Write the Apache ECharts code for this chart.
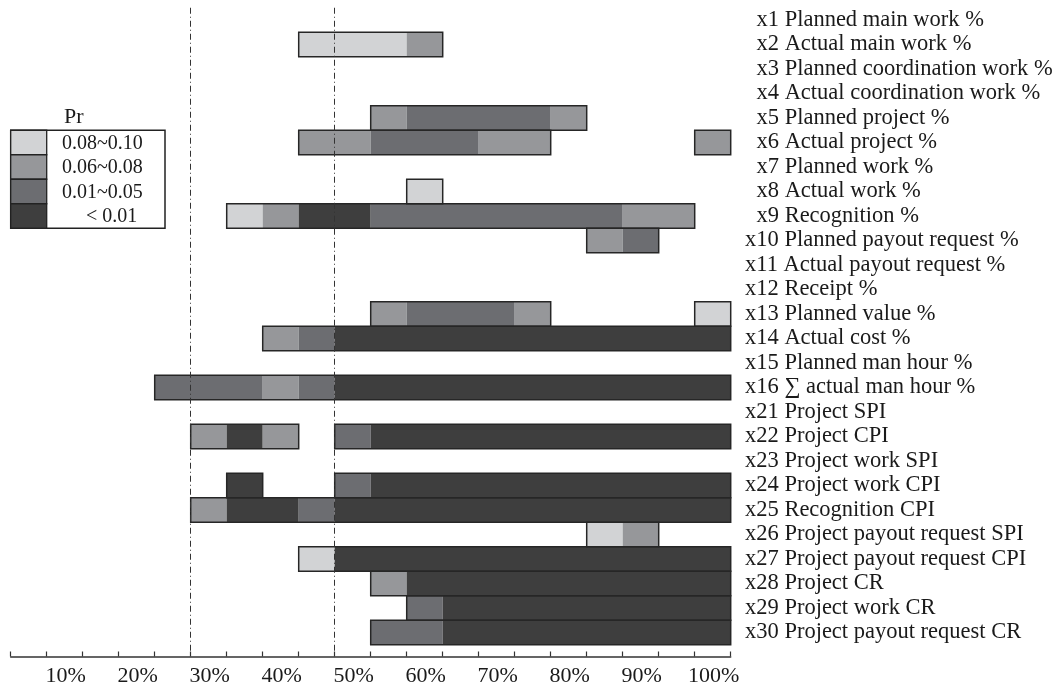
<!DOCTYPE html>
<html>
<head>
<meta charset="utf-8">
<script src="https://cdn.jsdelivr.net/npm/echarts@6/dist/echarts.min.js"></script>
<style>html,body{margin:0;padding:0;background:#fff}#c{width:1057px;height:691px}</style>
</head>
<body>
<div id="c"></div>
<script>
// Row labels (top to bottom)
const rowCodes = ['x1','x2','x3','x4','x5','x6','x7','x8','x9','x10','x11','x12','x13','x14','x15','x16',
  'x21','x22','x23','x24','x25','x26','x27','x28','x29','x30'];
const rowNames = ['Planned main work %','Actual main work %','Planned coordination work %','Actual coordination work %',
  'Planned project %','Actual project %','Planned work %','Actual work %','Recognition %',
  'Planned payout request %','Actual payout request %','Receipt %','Planned value %','Actual cost %',
  'Planned man hour %','\u2211 actual man hour %','Project SPI','Project CPI','Project work SPI','Project work CPI',
  'Recognition CPI','Project payout request SPI','Project payout request CPI','Project CR','Project work CR',
  'Project payout request CR'];
// Pr level per 5% bin (0 = none, 1 = 0.08~0.10, 2 = 0.06~0.08, 3 = 0.01~0.05, 4 = < 0.01)
const binStep = 5;
const rowLevels = [
  '00000000000000000000',
  '00000000111200000000',
  '00000000000000000000',
  '00000000000000000000',
  '00000000002333320000',
  '00000000223332200002',
  '00000000000000000000',
  '00000000000100000000',
  '00000012443333333220',
  '00000000000000002300',
  '00000000000000000000',
  '00000000000000000000',
  '00000000002333200001',
  '00000002344444444444',
  '00000000000000000000',
  '00003332344444444444',
  '00000000000000000000',
  '00000242034444444444',
  '00000000000000000000',
  '00000040034444444444',
  '00000244344444444444',
  '00000000000000001200',
  '00000000144444444444',
  '00000000002444444444',
  '00000000000344444444',
  '00000000003344444444'
];
const legendLabels = ['0.08~0.10','0.06~0.08','0.01~0.05','< 0.01'];
const levelColors = ['#d2d3d5','#96979a','#6c6d71','#3e3e3e'];
const refLines = [25, 45];

const FONT = "'Liberation Serif','Times New Roman',serif";

// build same-level segments and run outlines from the bins
const cells = [], runs = [];
rowLevels.forEach((s, r) => {
  let runStart = -1, segStart = -1, segLv = 0;
  for (let k = 0; k <= s.length; k++) {
    const lv = k < s.length ? +s[k] : 0;
    if (lv !== segLv) {
      if (segLv > 0) cells.push([segStart * binStep, k * binStep, r, segLv]);
      segStart = k; segLv = lv;
    }
    if (lv > 0 && runStart < 0) runStart = k;
    if (lv === 0 && runStart >= 0) { runs.push([runStart * binStep, k * binStep, r]); runStart = -1; }
  }
});

const chart = echarts.init(document.getElementById('c'), null, {renderer: 'canvas'});

function rectItem(api) {
  const p0 = api.coord([api.value(0), api.value(2)]);
  const p1 = api.coord([api.value(1), api.value(2)]);
  const h = api.size([0, 1])[1];
  return {x: p0[0], y: p0[1] - h / 2, width: p1[0] - p0[0], height: h};
}

const legendX = 10.7, legendTop = 130.25, rowH = 24.5;
const graphics = [
  {type: 'text', left: 64, top: 106, style: {text: 'Pr', font: '22px ' + FONT, fill: '#1a1a1a'}},
  {type: 'rect', shape: {x: legendX, y: legendTop, width: 154.3, height: rowH * 4}, style: {fill: '#fff', stroke: '#222', lineWidth: 1.5}}
];
legendLabels.forEach((t, i) => {
  graphics.push({type: 'rect', shape: {x: legendX, y: legendTop + rowH * i, width: 36, height: rowH},
    style: {fill: levelColors[i], stroke: '#222', lineWidth: 1.3}});
  graphics.push({type: 'text', x: i === 3 ? 86 : 62, y: legendTop + rowH * i + rowH / 2 + 1,
    style: {text: t, font: '20px ' + FONT, fill: '#1a1a1a', textVerticalAlign: 'middle'}});
});

chart.setOption({
  animation: false,
  backgroundColor: '#fff',
  grid: {left: 10.7, right: 326.3, top: 7.75, bottom: 34.5},
  xAxis: {
    type: 'value', min: 0, max: 100, interval: 5, position: 'bottom',
    axisLine: {show: true, onZero: false, lineStyle: {color: '#333', width: 1.5}},
    axisTick: {show: true, inside: true, length: 5, lineStyle: {color: '#333', width: 1.2}},
    splitLine: {show: false},
    axisLabel: {
      margin: 9, fontFamily: FONT, fontSize: 22, color: '#1a1a1a',
      padding: [0, 34, 0, 0],
      formatter: v => (v > 0 && v % 10 === 0) ? v + '%' : ''
    }
  },
  yAxis: {
    type: 'value', inverse: true, min: -0.5, max: 25.98, position: 'right',
    axisLine: {show: false}, axisTick: {show: false}, splitLine: {show: false},
    axisLabel: {
      customValues: rowCodes.map((_, i) => i),
      margin: 14.3, fontFamily: FONT, fontSize: 22.5, color: '#1a1a1a', align: 'left',
      formatter: v => {
        const i = Math.round(v);
        const txt = rowCodes[i] + ' ' + rowNames[i];
        return rowCodes[i].length < 3 ? '{s|' + txt + '}' : '{n|' + txt + '}';
      },
      rich: {
        s: {fontFamily: FONT, fontSize: 22.5, color: '#1a1a1a', padding: [0, 0, 0, 11.5]},
        n: {fontFamily: FONT, fontSize: 22.5, color: '#1a1a1a'}
      }
    }
  },
  graphic: graphics,
  series: [
    {
      type: 'line', data: [], z: 1, silent: true,
      markLine: {
        silent: true, symbol: 'none', label: {show: false},
        lineStyle: {color: '#333', width: 1, type: [6, 3, 1, 3]},
        data: refLines.map(v => ({xAxis: v}))
      }
    },
    {
      type: 'custom', z: 3, silent: true,
      encode: {x: [0, 1], y: 2},
      data: cells,
      renderItem: (params, api) => ({
        type: 'rect', shape: rectItem(api),
        style: {fill: levelColors[api.value(3) - 1], stroke: null}
      })
    },
    {
      type: 'custom', z: 4, silent: true,
      encode: {x: [0, 1], y: 2},
      data: runs,
      renderItem: (params, api) => ({
        type: 'rect', shape: rectItem(api),
        style: {fill: null, stroke: '#262626', lineWidth: 1.5}
      })
    }
  ]
});
</script>
</body>
</html>
